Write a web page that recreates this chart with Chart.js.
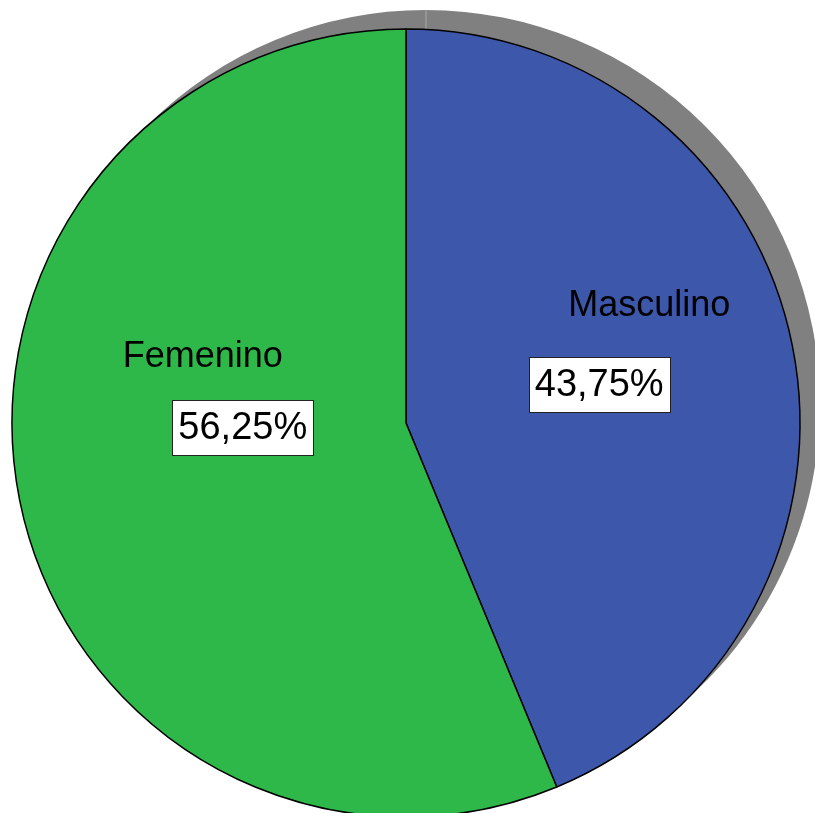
<!DOCTYPE html>
<html>
<head>
<meta charset="utf-8">
<script src="https://cdn.jsdelivr.net/npm/chart.js@4"></script>
<style>
    html, body { margin: 0; padding: 0; background: #fff; overflow: hidden; }
    #wrap { width: 815px; height: 813px; }
</style>
</head>
<body>
<div id="wrap"><canvas id="sexChart" width="815" height="813"></canvas></div>
<script>
// Pie data
const categories = ['Masculino', 'Femenino'];
const percentages = [43.75, 56.25];
const sliceColors = ['#3d57ab', '#2eb84a'];

// Label placement: box relative to the slice center, name relative to the box
const boxShift = [[0, 0], [30, -34]];
const nameShift = [[50, -78], [-40, -70]];

const fmtPct = v => v.toFixed(2).replace('.', ',') + '%';

// Gray drop shadow behind the whole pie, offset up and to the right
const pieShadow = {
    id: 'pieShadow',
    beforeDatasetsDraw(chart) {
        const ctx = chart.ctx;
        const arcs = chart.getDatasetMeta(0).data;
        ctx.save();
        arcs.forEach(arc => {
            const { x, y, startAngle, endAngle, outerRadius } = arc.getProps(['x', 'y', 'startAngle', 'endAngle', 'outerRadius'], true);
            const sx = x + 20, sy = y - 19;
            ctx.beginPath();
            ctx.moveTo(sx, sy);
            ctx.arc(sx, sy, outerRadius, startAngle, endAngle);
            ctx.closePath();
            ctx.fillStyle = '#808080';
            ctx.fill();
        });
        // faint separators between the shadow wedges
        arcs.forEach(arc => {
            const { x, y, startAngle, outerRadius } = arc.getProps(['x', 'y', 'startAngle', 'outerRadius'], true);
            const sx = x + 20, sy = y - 19;
            ctx.beginPath();
            ctx.moveTo(sx, sy);
            ctx.lineTo(sx + outerRadius * Math.cos(startAngle), sy + outerRadius * Math.sin(startAngle));
            ctx.strokeStyle = '#a8a8a8';
            ctx.lineWidth = 1;
            ctx.stroke();
        });
        ctx.restore();
    }
};

// Category names and boxed percentages on the slices
const sliceLabels = {
    id: 'sliceLabels',
    afterDatasetsDraw(chart) {
        const ctx = chart.ctx;
        const meta = chart.getDatasetMeta(0);
        ctx.save();
        ctx.textAlign = 'center';
        ctx.textBaseline = 'middle';
        meta.data.forEach((arc, i) => {
            const c = arc.getCenterPoint();
            const bx = c.x + boxShift[i][0];
            const by = c.y + boxShift[i][1];

            ctx.font = '36px "Liberation Sans", Arial, sans-serif';
            ctx.fillStyle = '#000';
            ctx.fillText(categories[i], bx + nameShift[i][0], by + nameShift[i][1]);

            const txt = fmtPct(percentages[i]);
            ctx.font = '38px "Liberation Sans", Arial, sans-serif';
            const w = Math.round(ctx.measureText(txt).width + 12);
            const h = 55;
            const left = Math.round(bx - w / 2) + 0.5;
            const top = Math.round(by - h / 2) + 0.5;
            ctx.fillStyle = '#fff';
            ctx.fillRect(left, top, w, h);
            ctx.strokeStyle = '#222';
            ctx.lineWidth = 1;
            ctx.strokeRect(left, top, w, h);
            ctx.fillStyle = '#000';
            ctx.fillText(txt, bx, by + 1);
        });
        ctx.restore();
    }
};

function initPieChart() {
    const ctx = document.getElementById('sexChart').getContext('2d');
    new Chart(ctx, {
        type: 'pie',
        data: {
            labels: categories,
            datasets: [{
                data: percentages,
                backgroundColor: sliceColors,
                borderColor: '#000',
                borderWidth: 1.5,
                clip: false
            }]
        },
        options: {
            responsive: false,
            animation: false,
            radius: 394,
            layout: { padding: { left: 0, right: 3, top: 33, bottom: 0 } },
            plugins: {
                legend: { display: false },
                tooltip: { enabled: false }
            }
        },
        plugins: [pieShadow, sliceLabels]
    });
}

document.addEventListener('DOMContentLoaded', initPieChart);
</script>
</body>
</html>
